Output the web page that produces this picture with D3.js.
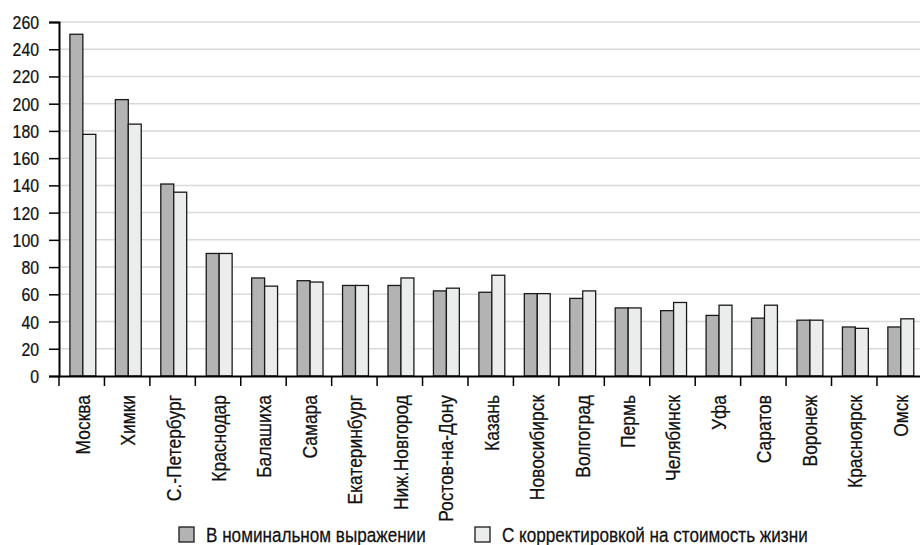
<!DOCTYPE html>
<html>
<head>
<meta charset="utf-8">
<script src="https://cdn.jsdelivr.net/npm/d3@7"></script>
<style>
  html, body { margin: 0; padding: 0; background: #fff; }
  svg { display: block; }
  text { font-family: "Liberation Sans", Arial, sans-serif; fill: #111; stroke: #111; stroke-width: 0.25px; }
</style>
</head>
<body>
<svg id="chart" width="920" height="545"></svg>
<script>
const categories = ["Москва", "Химки", "С.-Петербург", "Краснодар", "Балашиха", "Самара", "Екатеринбург", "Ниж.Новгород", "Ростов-на-Дону", "Казань", "Новосибирск", "Волгоград", "Пермь", "Челябинск", "Уфа", "Саратов", "Воронеж", "Красноярск", "Омск"];
const nominal = [251, 203, 141, 90, 72, 70, 66.5, 66.5, 62.5, 61.5, 60.5, 57, 50, 48, 44.5, 42.5, 41, 36, 36];
const adjusted = [177.5, 185, 135, 90, 66, 69, 66.5, 72, 64.5, 74, 60.5, 62.5, 50, 54, 52, 52, 41, 35, 42];
const seriesNames = ["В номинальном выражении", "С корректировкой на стоимость жизни"];
const yTicks = [0, 20, 40, 60, 80, 100, 120, 140, 160, 180, 200, 220, 240, 260];

const colors = ["#b3b3b3", "#ebecec"];
const svg = d3.select("#chart");

const mLeft = 59, mRight = 922.4, mTop = 22, mBottom = 376;

const x = d3.scaleBand().domain(categories).range([mLeft, mRight]).padding(0);
const bw = x.bandwidth();
const x1 = d3.scaleBand().domain(seriesNames).range([bw * 0.24, bw * 0.81]).padding(0);
const y = d3.scaleLinear().domain([0, 260]).range([mBottom, mTop]);

// gridlines
svg.append("g").selectAll("line")
  .data(yTicks.filter(d => d > 0))
  .join("line")
  .attr("x1", mLeft).attr("x2", 920)
  .attr("y1", d => y(d)).attr("y2", d => y(d))
  .attr("stroke", "#d9d9d9").attr("stroke-width", 1.5);

// bars
const data = categories.map((c, i) => ({ c, vals: [nominal[i], adjusted[i]] }));
const groups = svg.append("g").selectAll("g")
  .data(data).join("g")
  .attr("transform", d => `translate(${x(d.c)},0)`);
groups.selectAll("rect")
  .data(d => d.vals.map((v, j) => ({ v, s: seriesNames[j], j })))
  .join("rect")
  .attr("x", d => x1(d.s))
  .attr("width", x1.bandwidth())
  .attr("y", d => y(d.v))
  .attr("height", d => y(0) - y(d.v))
  .attr("fill", d => colors[d.j])
  .attr("stroke", "#1a1a1a")
  .attr("stroke-width", 1.3);

// y axis
const yAxis = d3.axisLeft(y).tickValues(yTicks).tickSize(10).tickPadding(6);
const gy = svg.append("g").attr("transform", `translate(${mLeft},0)`).call(yAxis);
gy.select(".domain").attr("stroke", "#000").attr("stroke-width", 2);
gy.selectAll(".tick line").attr("stroke", "#000").attr("stroke-width", 1.5);
gy.selectAll(".tick text")
  .attr("x", 0)
  .attr("dy", "0.36em")
  .attr("transform", "translate(-20,0) scale(0.88,1)")
  .attr("font-size", 18).attr("fill", "#111")
  .style("font-family", '"Liberation Sans", Arial, sans-serif');

// x axis
const xAxis = d3.axisBottom(x).tickSize(0).tickFormat("");
const gx = svg.append("g").attr("transform", `translate(0,${mBottom})`).call(xAxis);
gx.select(".domain").attr("stroke", "#000").attr("stroke-width", 2);
gx.append("g").selectAll("line")
  .data(categories)
  .join("line")
  .attr("x1", d => x(d)).attr("x2", d => x(d))
  .attr("y1", 0).attr("y2", 10)
  .attr("stroke", "#000").attr("stroke-width", 1.5);

// category labels
svg.append("g").selectAll("text")
  .data(categories).join("text")
  .attr("transform", d => `translate(${x(d) + bw / 2 + 8},395) rotate(-90) scale(0.83,1)`)
  .attr("text-anchor", "end")
  .attr("font-size", 21)
  .text(d => d);

// legend
const legendX = [179, 475];
const legend = svg.append("g").selectAll("g")
  .data(seriesNames).join("g")
  .attr("transform", (d, i) => `translate(${legendX[i]},527)`);
legend.append("rect")
  .attr("width", 15).attr("height", 15)
  .attr("fill", (d, i) => colors[i])
  .attr("stroke", "#1a1a1a").attr("stroke-width", 1.3);
legend.append("text")
  .attr("transform", "translate(27,14.5) scale(0.835,1)")
  .attr("font-size", 20.5)
  .text(d => d);
</script>
</body>
</html>
